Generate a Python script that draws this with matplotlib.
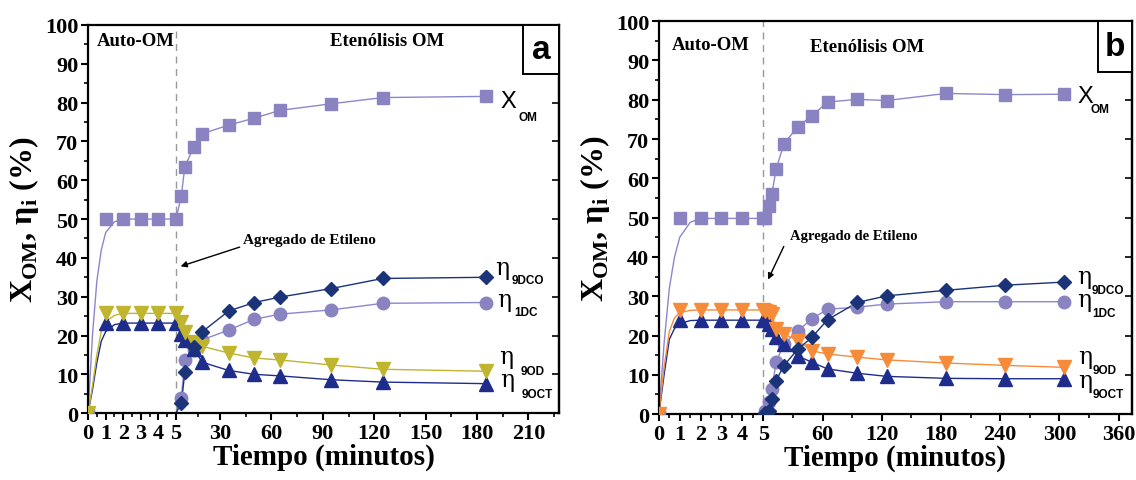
import numpy as np
import matplotlib
matplotlib.use("Agg")
import matplotlib.pyplot as plt
from matplotlib.patches import Rectangle

plt.rcParams['font.family'] = 'Liberation Serif'
plt.rcParams['font.weight'] = 'bold'
plt.rcParams['axes.labelweight'] = 'bold'
plt.rcParams['mathtext.fontset'] = 'custom'
plt.rcParams['mathtext.rm'] = 'Liberation Serif:bold'
plt.rcParams['mathtext.bf'] = 'Liberation Serif:bold'

# ---------------- datos ----------------
t_auto = [0, 1, 2, 3, 4, 5]
t_fit_auto = [0, 0.25, 0.5, 0.75, 1, 1.5, 2, 5]

# panel a
a_xom_auto = [0, 50, 50, 50, 50, 50]
a_9od_auto = [0, 25.7, 25.7, 25.7, 25.7, 25.7]
a_9oct_auto = [0, 23.2, 23.2, 23.2, 23.2, 23.2]
a_xom_fit = [0, 20, 34, 42, 46.5, 49.3, 50, 50]
a_9od_fit = [0, 7, 15, 21, 23.5, 25.2, 25.7, 25.7]
a_9oct_fit = [0, 6, 13, 18.5, 21, 22.8, 23.2, 23.2]

a_t = [5, 8, 10, 15, 20, 35, 50, 65, 95, 125, 185]
a_xom = [50, 56, 63.5, 68.5, 72, 74.2, 76, 78, 79.7, 81.3, 81.6]
a_9dco = [0, 2.6, 10.5, 17, 21, 26.3, 28.5, 29.9, 32.1, 34.7, 35.0]
a_1dc = [0, 3.8, 13.6, 16.3, 18.9, 21.4, 24.2, 25.5, 26.6, 28.3, 28.5]
a_9od = [25.7, 23.5, 20.9, 18.3, 17.2, 15.5, 14.2, 13.7, 12.4, 11.3, 10.8]
a_9oct = [23.2, 20.5, 18.8, 16.5, 13.1, 11.0, 10.0, 9.6, 8.6, 8.0, 7.6]

# panel b
b_xom_auto = [0, 49.8, 49.8, 49.8, 49.8, 49.8]
b_9od_auto = [0, 26.5, 26.5, 26.5, 26.5, 26.5]
b_9oct_auto = [0, 23.9, 23.9, 23.9, 23.9, 23.9]
b_xom_fit = [0, 18, 32, 40, 45, 48.8, 49.8, 49.8]
b_9od_fit = [0, 12, 21, 24.5, 25.8, 26.4, 26.5, 26.5]
b_9oct_fit = [0, 10, 19, 21.8, 23, 23.8, 23.9, 23.9]

b_t = [5, 7, 10, 13, 17, 24, 37, 50, 65, 95, 125, 185, 245, 305]
b_xom = [49.8, 50, 53, 56, 62.3, 68.7, 73.1, 75.9, 79.4, 80.1, 79.8, 81.6, 81.3, 81.4]
b_9dco = [0, 0.3, 0.8, 3.8, 8.5, 12.3, 16.5, 19.5, 24.0, 28.4, 30.1, 31.5, 32.8, 33.6]
b_1dc = [0, 0.8, 3.0, 6.4, 13.2, 17.8, 21.2, 24.2, 26.7, 27.2, 28.0, 28.6, 28.6, 28.6]
b_9od = [26.5, 26.3, 25.9, 25.4, 21.6, 20.4, 18.7, 16.1, 15.3, 14.5, 13.8, 13.0, 12.4, 11.9]
b_9oct = [23.9, 23.9, 23.0, 21.6, 19.5, 17.8, 14.8, 13.2, 11.5, 10.4, 9.6, 9.1, 9.0, 9.0]

# colores
LAV = '#8a83c2'
LAV_LINE = '#8c87cc'
DIAM = '#1b3378'
TRI = '#1e2d8c'
OLIVE = '#c0b52f'
ORANGE = '#f68c3a'


def escala(knots_t, knots_u):
    kt = np.asarray(knots_t, float)
    ku = np.asarray(knots_u, float)

    def fwd(x):
        return np.interp(x, kt, ku)

    def inv(u):
        return np.interp(u, ku, kt)
    return fwd, inv


def serie(ax, t, v, color, marker, ms, lcolor=None, lw=1.0):
    # linea desde el punto de inicio (t=5), marcadores desde el segundo punto
    ax.plot(t, v, '-', color=lcolor or color, lw=lw, zorder=2)
    ax.plot(t[1:], v[1:], ls='none', marker=marker, ms=ms, color=color,
            mec=color, zorder=3)


def panel(ax, d):
    ax.set_xscale('function', functions=d['scale'])
    ax.set_xlim(0, d['xmax'])
    ax.set_ylim(0, 100)

    # fase Auto-OM
    ax.plot(t_fit_auto, d['xom_fit'], '-', color=LAV_LINE, lw=1.0, zorder=2)
    ax.plot(t_fit_auto, d['9oct_fit'], '-', color=TRI, lw=1.0, zorder=2)
    ax.plot(t_fit_auto, d['9od_fit'], '-', color=d['odc'], lw=1.0, zorder=2)
    ax.plot(t_auto, d['xom_auto'], ls='none', marker='s', ms=8.5, color=LAV, zorder=3)
    ax.plot(t_auto, d['9oct_auto'], ls='none', marker='^', ms=10, color=TRI, zorder=3)
    ax.plot(t_auto, d['9od_auto'], ls='none', marker='v', ms=10, color=d['odc'], zorder=3)

    # fase etenolisis
    t = d['t']
    serie(ax, t, d['xom'], LAV, 's', 8.5, LAV_LINE)
    serie(ax, t, d['1dc'], LAV, 'o', 9, LAV_LINE)
    serie(ax, t, d['9oct'], TRI, '^', 10)
    serie(ax, t, d['9od'], d['odc'], 'v', 10)
    serie(ax, t, d['9dco'], DIAM, 'D', 7.5)

    ax.axvline(5, color='#999999', ls=(0, (5, 4)), lw=1.0, zorder=1)

    ax.set_xticks(d['major'])
    ax.set_xticklabels([str(x) for x in d['major']])
    ax.set_xticks(d['minor'], minor=True)
    ax.set_yticks(np.arange(0, 101, 10))
    ax.set_yticks(np.arange(5, 100, 10), minor=True)
    ax.tick_params(axis='both', which='major', direction='out', length=5,
                   width=1.5, labelsize=16, pad=2)
    ax.tick_params(axis='both', which='minor', direction='out', length=3,
                   width=1.2)
    sec = ax.secondary_yaxis('right')
    sec.set_yticks(np.arange(0, 101, 10))
    sec.tick_params(direction='in', length=5, width=1.2, labelright=False)
    for s in ax.spines.values():
        s.set_linewidth(1.6)
    sec.spines['right'].set_linewidth(1.6)

    ax.set_xlabel('Tiempo (minutos)', fontsize=21, labelpad=0)
    ax.set_ylabel(r'X$_{\mathrm{OM}}$, η$_{\mathrm{i}}$ (%)', fontsize=23, labelpad=3)

    for txt, (x, y), fs in d['textos']:
        ax.text(x, y, txt, fontsize=fs, ha='left', va='center')

    ax.annotate('', xy=d['flecha'][1], xytext=d['flecha'][0],
                arrowprops=dict(arrowstyle='-|>', color='black', lw=1.0,
                                mutation_scale=9))

    # etiquetas de series
    for main, sub, (x1, y1), (x2, y2) in d['etiquetas']:
        if main == 'X':
            ax.text(x1, y1, main, fontsize=17, family='Liberation Sans',
                    fontweight='normal', ha='left', va='baseline')
        else:
            ax.text(x1, y1, main, fontsize=17, family='DejaVu Serif',
                    fontweight='normal', ha='left', va='baseline')
        ax.text(x2, y2, sub, fontsize=8.5, family='Liberation Sans',
                fontweight='bold', ha='left', va='baseline')

    bx0, by0 = d['caja']
    ax.add_patch(Rectangle((bx0, by0), 1 - bx0, 1 - by0, transform=ax.transAxes,
                           facecolor='white', edgecolor='black', lw=1.4,
                           zorder=5, clip_on=False))
    ax.text((bx0 + 1) / 2, (by0 + 1) / 2, d['letra'], transform=ax.transAxes,
            fontsize=24, family='Liberation Sans', fontweight='bold',
            ha='center', va='center', zorder=6)


fig = plt.figure(figsize=(11.36, 4.81), dpi=100)
ax1 = fig.add_axes([0.0775, 0.139, 0.4146, 0.807])
ax2 = fig.add_axes([0.580, 0.137, 0.4164, 0.817])

pa = {
    'scale': escala([-10, 0, 5, 30, 2000], [-176, 0, 88, 132, 132 + 1970 * 1.713]),
    'xmax': 227.9, 'odc': OLIVE, 't': a_t,
    'xom_fit': a_xom_fit, '9od_fit': a_9od_fit, '9oct_fit': a_9oct_fit,
    'xom_auto': a_xom_auto, '9od_auto': a_9od_auto, '9oct_auto': a_9oct_auto,
    'xom': a_xom, '9dco': a_9dco, '1dc': a_1dc, '9od': a_9od, '9oct': a_9oct,
    'major': [0, 1, 2, 3, 4, 5, 30, 60, 90, 120, 150, 180, 210],
    'minor': [0.5, 1.5, 2.5, 3.5, 4.5, 17.5, 45, 75, 105, 135, 165, 195, 225],
    'textos': [('Auto-OM', (0.5, 95.9), 13.5), ('Etenólisis OM', (94, 95.9), 13.5),
               ('Agregado de Etileno', (43.4, 44.8), 11)],
    'flecha': [(43.0, 43.0), (6.1, 37.6)],
    'etiquetas': [('X', 'OM', (194, 78.8), (204, 75.4)),
                  ('η', '9DCO', (190.5, 35.8), (200.5, 33.4)),
                  ('η', '1DC', (191.5, 27.5), (201.5, 25.2)),
                  ('η', '9OD', (193, 13.0), (205.5, 10.2)),
                  ('η', '9OCT', (193.5, 7.0), (206, 4.2))],
    'caja': (0.924, 0.874), 'letra': 'a'}

pb = {
    'scale': escala([-10, 0, 5, 60, 2000], [-208.6, 0, 104.3, 163.7, 163.7 + 1940 * 0.987]),
    'xmax': 373.4, 'odc': ORANGE, 't': b_t,
    'xom_fit': b_xom_fit, '9od_fit': b_9od_fit, '9oct_fit': b_9oct_fit,
    'xom_auto': b_xom_auto, '9od_auto': b_9od_auto, '9oct_auto': b_9oct_auto,
    'xom': b_xom, '9dco': b_9dco, '1dc': b_1dc, '9od': b_9od, '9oct': b_9oct,
    'major': [0, 1, 2, 3, 4, 5, 60, 120, 180, 240, 300, 360],
    'minor': [0.5, 1.5, 2.5, 3.5, 4.5, 32.5, 90, 150, 210, 270, 330],
    'textos': [('Auto-OM', (0.62, 94.1), 13.5), ('Etenólisis OM', (48.2, 93.6), 13.5),
               ('Agregado de Etileno', (29.7, 45.5), 10.5)],
    'flecha': [(25.2, 43.3), (8.4, 33.6)],
    'etiquetas': [('X', 'OM', (318.5, 79.3), (331, 76.8)),
                  ('η', '9DCO', (318.2, 33.4), (333, 30.8)),
                  ('η', '1DC', (318.2, 27.6), (333, 24.9)),
                  ('η', '9OD', (319.2, 13.0), (334, 10.5)),
                  ('η', '9OCT', (319.2, 7.0), (334, 4.4))],
    'caja': (0.928, 0.87), 'letra': 'b'}

panel(ax1, pa)
panel(ax2, pb)

fig.savefig('out.png', dpi=100)
